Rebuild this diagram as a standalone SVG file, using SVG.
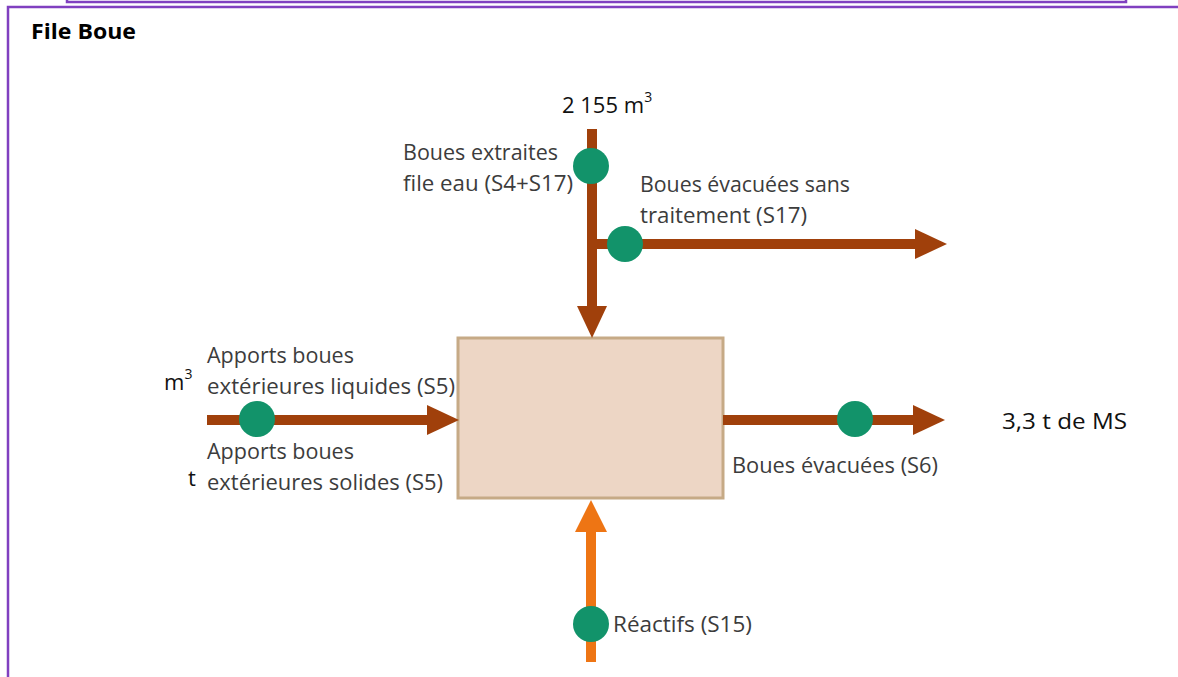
<svg xmlns="http://www.w3.org/2000/svg" width="1178" height="677" viewBox="0 0 1178 677">
  <style>
    .frame { fill: none; stroke: #8040C0; stroke-width: 2.5; }
    .lbl { font-family: "Open Sans", "Liberation Sans", sans-serif; font-size: 21px; fill: #3C3C3C; }
    .val { font-family: "Open Sans", "Liberation Sans", sans-serif; font-size: 22px; fill: #111111; }
    .title { font-family: "Open Sans", "Liberation Sans", sans-serif; font-size: 21px; font-weight: bold; fill: #000000; }
    .brown { stroke: #A0400B; stroke-width: 10; fill: none; }
    .orange { stroke: #EE7514; stroke-width: 10; fill: none; }
    .pt { fill: #12936A; }
  </style>
  <defs>
    <marker id="headBrown" markerUnits="userSpaceOnUse" markerWidth="32" markerHeight="30" refX="0" refY="15" orient="auto" viewBox="0 0 32 30">
      <path d="M0,0 L32,15 L0,30 Z" fill="#A0400B"/>
    </marker>
    <marker id="headOrange" markerUnits="userSpaceOnUse" markerWidth="32" markerHeight="32" refX="0" refY="16" orient="auto" viewBox="0 0 32 32">
      <path d="M0,0 L32,16 L0,32 Z" fill="#EE7514"/>
    </marker>
  </defs>
  <rect width="1178" height="677" fill="#FFFFFF"/>

  <g id="frames">
    <rect class="frame" x="67" y="-20" width="1059" height="22"/>
    <rect class="frame" x="8" y="7" width="1200" height="700"/>
  </g>

  <g id="title">
    <text class="title" x="31" y="39" textLength="105" lengthAdjust="spacingAndGlyphs">File Boue</text>
  </g>

  <g id="process-box">
    <rect x="458" y="338" width="265" height="160" fill="#EDD6C5" stroke="#C6AA86" stroke-width="3"/>
  </g>

  <g id="connectors">
    <line class="brown" x1="592" y1="129" x2="592" y2="306" marker-end="url(#headBrown)"/>
    <line class="brown" x1="592" y1="244" x2="915" y2="244" marker-end="url(#headBrown)"/>
    <line class="brown" x1="207" y1="420" x2="427" y2="420" marker-end="url(#headBrown)"/>
    <line class="brown" x1="723" y1="420" x2="913" y2="420" marker-end="url(#headBrown)"/>
    <line class="orange" x1="591" y1="662" x2="591" y2="532" marker-end="url(#headOrange)"/>
  </g>

  <g id="measure-points">
    <circle id="pt-s4s17" class="pt" cx="591" cy="166" r="18"/>
    <circle id="pt-s17" class="pt" cx="625" cy="244" r="18"/>
    <circle id="pt-s5" class="pt" cx="257" cy="419" r="18"/>
    <circle id="pt-s6" class="pt" cx="855" cy="419" r="18"/>
    <circle id="pt-s15" class="pt" cx="591" cy="624" r="18"/>
  </g>

  <g id="label-s4s17">
    <text class="val" x="562" y="113" font-size="23">2 155 m<tspan font-size="14" dy="-11">3</tspan></text>
    <text class="lbl" x="403" y="160" textLength="155" lengthAdjust="spacingAndGlyphs">Boues extraites</text>
    <text class="lbl" x="403" y="191" textLength="170" lengthAdjust="spacingAndGlyphs">file eau (S4+S17)</text>
  </g>

  <g id="label-s17">
    <text class="lbl" x="640" y="192" textLength="210" lengthAdjust="spacingAndGlyphs">Boues évacuées sans</text>
    <text class="lbl" x="640" y="223" textLength="167" lengthAdjust="spacingAndGlyphs">traitement (S17)</text>
  </g>

  <g id="label-s5">
    <text class="val" x="164" y="390">m<tspan font-size="14" dy="-11">3</tspan></text>
    <text class="lbl" x="207" y="363" textLength="147" lengthAdjust="spacingAndGlyphs">Apports boues</text>
    <text class="lbl" x="207" y="394" textLength="248" lengthAdjust="spacingAndGlyphs">extérieures  liquides (S5)</text>
    <text class="lbl" x="207" y="459" textLength="147" lengthAdjust="spacingAndGlyphs">Apports boues</text>
    <text class="val" x="188" y="486">t</text>
    <text class="lbl" x="207" y="490" textLength="236" lengthAdjust="spacingAndGlyphs">extérieures  solides (S5)</text>
  </g>

  <g id="label-s6">
    <text class="lbl" x="732" y="473" textLength="206" lengthAdjust="spacingAndGlyphs">Boues évacuées (S6)</text>
    <text class="val" x="1002" y="429" textLength="125" lengthAdjust="spacingAndGlyphs">3,3 t de MS</text>
  </g>

  <g id="label-s15">
    <text class="lbl" x="613" y="632" textLength="139" lengthAdjust="spacingAndGlyphs">Réactifs (S15)</text>
  </g>
</svg>
